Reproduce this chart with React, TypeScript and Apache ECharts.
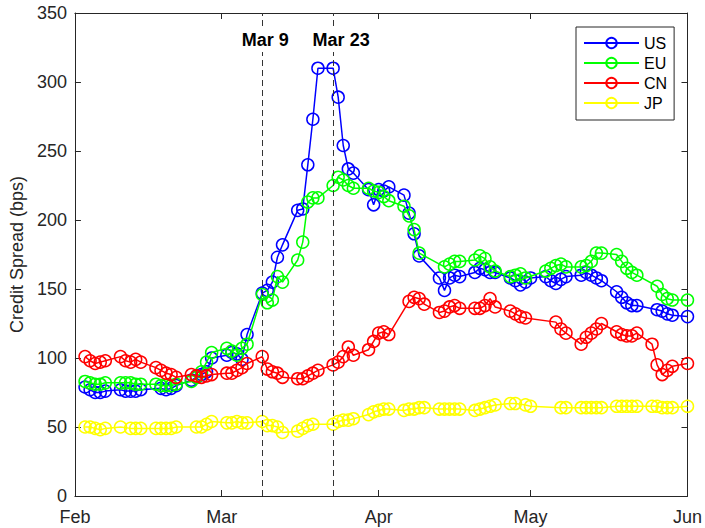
import React, { useEffect, useRef } from "react";
import * as echarts from "echarts";

// Business days (trading dates) shown on the x axis
const dates = [
  "2020-02-03","2020-02-04","2020-02-05","2020-02-06","2020-02-07",
  "2020-02-10","2020-02-11","2020-02-12","2020-02-13","2020-02-14",
  "2020-02-17","2020-02-18","2020-02-19","2020-02-20","2020-02-21",
  "2020-02-24","2020-02-25","2020-02-26","2020-02-27","2020-02-28",
  "2020-03-02","2020-03-03","2020-03-04","2020-03-05","2020-03-06",
  "2020-03-09","2020-03-10","2020-03-11","2020-03-12","2020-03-13",
  "2020-03-16","2020-03-17","2020-03-18","2020-03-19","2020-03-20",
  "2020-03-23","2020-03-24","2020-03-25","2020-03-26","2020-03-27",
  "2020-03-30","2020-03-31",
  "2020-04-01","2020-04-02","2020-04-03",
  "2020-04-06","2020-04-07","2020-04-08","2020-04-09","2020-04-10",
  "2020-04-13","2020-04-14","2020-04-15","2020-04-16","2020-04-17",
  "2020-04-20","2020-04-21","2020-04-22","2020-04-23","2020-04-24",
  "2020-04-27","2020-04-28","2020-04-29","2020-04-30",
  "2020-05-01",
  "2020-05-04","2020-05-05","2020-05-06","2020-05-07","2020-05-08",
  "2020-05-11","2020-05-12","2020-05-13","2020-05-14","2020-05-15",
  "2020-05-18","2020-05-19","2020-05-20","2020-05-21","2020-05-22",
  "2020-05-25","2020-05-26","2020-05-27","2020-05-28","2020-05-29",
  "2020-06-01",
];

const usSpread = [
  79, 77, 75, 75, 76, 77, 76, 76, 76, 77, null, 78, 77, 78, 80, 84, 86, 88, 90, 100,
  102, 104, 103, 99, 117, 147, 149, 155, 173, 182, 207, 208, 240, 273, 310, 310, 289, 254, 237, 234, 222, 211,
  222, 221, 224, 218, 205, 190, 174, null, 158, 149, 158, 160, 159, 162, 165, 164, 162, 162, 158, 156, 153, 155,
  158, 159, 156, 154, 157, 159, 160, 162, 160, 158, 156, 148, 144, 140, 138, 138, null, 135, 134, 132, 131,
  130,
];

const euSpread = [
  83, 82, 81, 81, 82, 82, 82, 82, 81, 81, 81, 80, 80, 80, 81, 83, 86, 90, 97, 104,
  107, 105, 102, 107, 110, 146, 140, 142, 159, 155, 171, 184, 213, 216, 216, 225, 231, 229, 225, 223, 223, 221,
  220, 217, 214, 210, 203, 193, 176, null, null, 166, 168, 170, 170, 171, 174, 172, 166, 163, 159, 160, 161, 158,
  null, 163, 165, 167, 168, 166, 166, 167, 170, 176, 176, 175, 170, 165, 162, 160, null, 152, 146, 143, 142,
  142,
];

const cnSpread = [
  101, 98, 96, 97, 98, 101, 98, 97, 99, 97, 93, 91, 89, 88, 86, 88, 87, 86, 87, 88,
  89, 89, 91, 93, 96, 101, 92, 90, 89, 86, 85, 85, 87, 89, 91, 95, 97, 101, 108, 102, 106, 112,
  118, 119, 117, null, 141, 144, 143, 139, 133, 134, 137, 138, 136, 136, 136, 138, 143, 137, 134, 132, 130, 129,
  null, null, null, 126, 121, 118, 110, 115, 118, 121, 125, 119, 117, 116, 116, 118, 110, 95, 88, 91, 94,
  96,
];

const jpSpread = [
  50, 50, 49, 48, 49, 50, null, 49, 49, 49, 49, 49, 49, 49, 50, null, 50, 50, 52, 54,
  53, 53, 54, 53, 53, 54, 51, 51, 50, 46, 47, 49, 51, 52, null, 52, 54, 55, 55, 56, 59, 61,
  62, 63, 63, 62, 63, 63, 64, 64, 63, 63, 63, 63, 63, 62, 63, 64, 65, 66, 67, 67, null, 66,
  65, null, null, null, 64, 64, 64, 64, 64, 64, 64, 65, 65, 65, 65, 65, 65, 65, 64, 64, 64,
  65,
];

const seriesNames = ["US", "EU", "CN", "JP"];
const seriesColors = ["#0000ff", "#00ff00", "#ff0000", "#ffff00"];
const seriesValues = [usSpread, euSpread, cnSpread, jpSpread];

const eventDates = ["2020-03-09", "2020-03-23"];
const eventLabels = ["Mar 9", "Mar 23"];
const eventLabelLevel = 330;

const xStart = "2020-02-01";
const xEnd = "2020-06-01";
const monthLabels = ["Jan", "Feb", "Mar", "Apr", "May", "Jun", "Jul", "Aug", "Sep", "Oct", "Nov", "Dec"];
const yMin = 0;
const yMax = 350;
const yStep = 50;

const toTime = (s: string) => {
  const [y, m, d] = s.split("-").map(Number);
  return new Date(y, m - 1, d).getTime();
};

const FONT = "'Liberation Sans', Arial, Helvetica, sans-serif";
const AXIS_COLOR = "#262626";
const DAY = 24 * 3600 * 1000;

export default function App() {
  const ref = useRef<HTMLDivElement>(null);

  useEffect(() => {
    if (!ref.current) return;
    const chart = echarts.init(ref.current, undefined, { renderer: "svg" });

    const timeAxisBase = {
      type: "time" as const,
      min: toTime(xStart),
      max: toTime(xEnd),
      minInterval: 28 * DAY,
      maxInterval: 31 * DAY,
      splitLine: { show: false },
      axisLine: { show: true, onZero: false, lineStyle: { color: AXIS_COLOR, width: 1 } },
      axisTick: { show: true, inside: true, length: 6, lineStyle: { color: AXIS_COLOR } },
      minorTick: { show: false },
    };

    const valueAxisBase = {
      type: "value" as const,
      min: yMin,
      max: yMax,
      interval: yStep,
      splitLine: { show: false },
      axisLine: { show: true, lineStyle: { color: AXIS_COLOR, width: 1 } },
      axisTick: { show: true, inside: true, length: 6, lineStyle: { color: AXIS_COLOR } },
    };

    const series: any[] = seriesNames.map((name, i) => ({
      name,
      type: "line",
      data: dates.map((d, j) => [toTime(d), seriesValues[i][j]]),
      connectNulls: true,
      symbol: "circle",
      symbolSize: 12,
      showAllSymbol: true,
      lineStyle: { color: seriesColors[i], width: 1.5 },
      itemStyle: { color: "rgba(255,255,255,0)", borderColor: seriesColors[i], borderWidth: 1.5 },
      emphasis: { disabled: true },
      z: 2 + i,
    }));

    series[0].markLine = {
      silent: true,
      symbol: ["none", "none"],
      label: { show: false },
      lineStyle: { type: [6, 4], color: "#333333", width: 1 },
      data: eventDates.map((d) => ({ xAxis: toTime(d) })),
      z: 10,
    };
    series[0].markPoint = {
      silent: true,
      symbol: "circle",
      symbolSize: 1,
      itemStyle: { color: "rgba(255,255,255,0)" },
      label: {
        show: true,
        position: [-20, -12],
        formatter: (p: any) => p.name,
        fontFamily: FONT,
        fontSize: 18,
        fontWeight: "bold",
        color: "#000",
        backgroundColor: "#ffffff",
        padding: [3, 0, 3, 0],
        lineHeight: 18,
      },
      data: eventDates.map((d, i) => ({ name: eventLabels[i], coord: [toTime(d), eventLabelLevel] })),
      z: 11,
    };

    chart.setOption({
      animation: false,
      backgroundColor: "#ffffff",
      textStyle: { fontFamily: FONT },
      grid: { left: 74, right: 17, top: 13, bottom: 32, containLabel: false },
      legend: {
        data: seriesNames,
        orient: "vertical",
        left: 576,
        top: 27,
        itemWidth: 55,
        itemHeight: 13,
        itemGap: 4,
        padding: [8, 7, 9, 7],
        borderColor: AXIS_COLOR,
        borderWidth: 1,
        backgroundColor: "#ffffff",
        textStyle: { fontFamily: FONT, fontSize: 16, color: "#000" },
        z: 20,
      },
      xAxis: [
        {
          ...timeAxisBase,
          position: "bottom",
          axisLabel: {
            show: true,
            margin: 12,
            fontFamily: FONT,
            fontSize: 18,
            color: AXIS_COLOR,
            showMinLabel: true,
            showMaxLabel: true,
            hideOverlap: false,
            formatter: (v: number) => monthLabels[new Date(v).getMonth()],
          },
        },
        {
          ...timeAxisBase,
          position: "top",
          axisLabel: { show: false },
        },
      ],
      yAxis: [
        {
          ...valueAxisBase,
          position: "left",
          name: "Credit Spread (bps)",
          nameLocation: "middle",
          nameGap: 47,
          nameTextStyle: { fontFamily: FONT, fontSize: 18, color: AXIS_COLOR },
          axisLabel: { show: true, margin: 8, fontFamily: FONT, fontSize: 18, color: AXIS_COLOR },
        },
        {
          ...valueAxisBase,
          position: "right",
          axisLabel: { show: false },
        },
      ],
      series,
    });

    return () => chart.dispose();
  }, []);

  return (
    <div
      ref={ref}
      style={{ position: "absolute", left: 0, top: 0, width: 705, height: 528, background: "#fff" }}
    />
  );
}
